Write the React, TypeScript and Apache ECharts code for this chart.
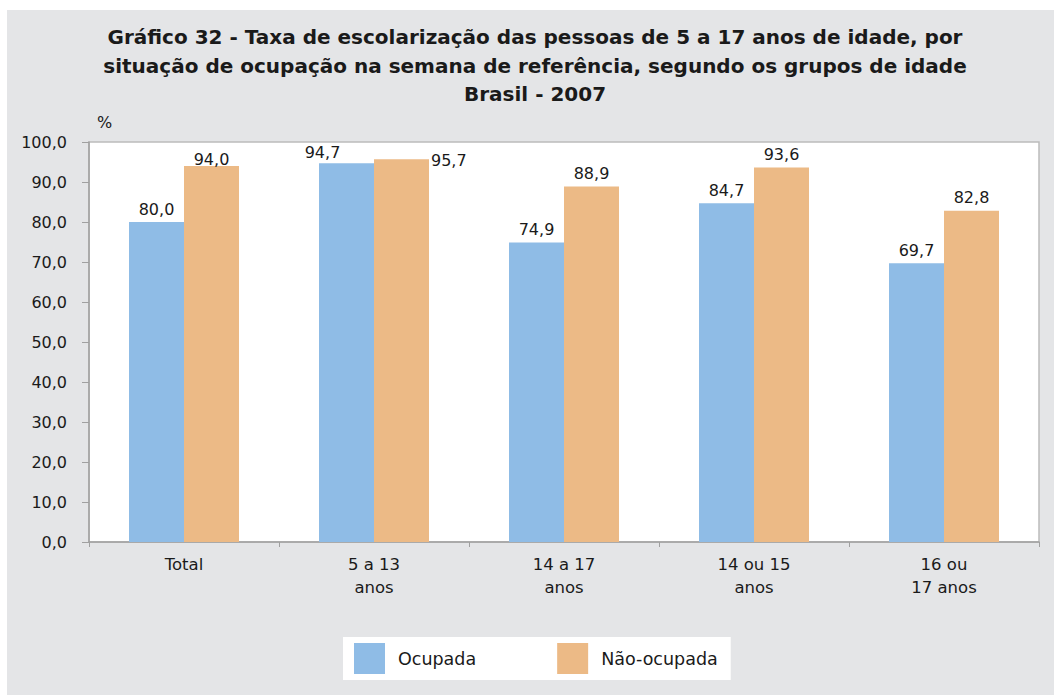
import React, { useEffect, useRef } from "react";
import * as echarts from "echarts";

const categories = ["Total", "5 a 13\nanos", "14 a 17\nanos", "14 ou 15\nanos", "16 ou\n17 anos"];
const ocupada = [80.0, 94.7, 74.9, 84.7, 69.7];
const naoOcupada = [94.0, 95.7, 88.9, 93.6, 82.8];
const seriesNames = ["Ocupada", "Não-ocupada"];
const titleLines = [
  "Gráfico 32 - Taxa de escolarização das pessoas de 5 a 17 anos de idade, por",
  "situação de ocupação na semana de referência, segundo os grupos de idade",
  "Brasil - 2007",
];

const FONT = "DejaVu Sans";
const TXT = "#1a1a1a";
const fmt = (v: number) => v.toFixed(1).replace(".", ",");

export default function App() {
  const ref = useRef<HTMLDivElement>(null);
  useEffect(() => {
    if (!ref.current) return;
    const chart = echarts.init(ref.current, undefined, { renderer: "svg" });
    const labelBase = {
      show: true,
      position: "top" as const,
      distance: 5,
      fontSize: 16,
      color: TXT,
      fontFamily: FONT,
      formatter: (p: any) => fmt(p.value),
    };
    const ocData = ocupada.map((v, i) =>
      i === 1 ? { value: v, label: { offset: [-24, 2] } } : v
    );
    const noData = naoOcupada.map((v, i) => {
      if (i === 0) return { value: v, label: { offset: [0, 6] } };
      if (i === 1)
        return {
          value: v,
          label: { position: ["100%", 0], align: "left", verticalAlign: "middle", offset: [2, 1] },
        };
      return v;
    });
    chart.setOption({
      animation: false,
      backgroundColor: "#ffffff",
      textStyle: { fontFamily: FONT },
      graphic: [
        {
          type: "rect",
          z: -10,
          silent: true,
          shape: { x: 7, y: 10, width: 1047, height: 685 },
          style: { fill: "#e4e5e7" },
        },
        {
          type: "text",
          left: 97,
          top: 114,
          style: { text: "%", fontSize: 16, fill: TXT, fontFamily: FONT },
        },
      ],
      title: {
        text: titleLines.join("\n"),
        left: 530,
        top: 18,
        textAlign: "center",
        textStyle: {
          fontSize: 20,
          fontWeight: "bold",
          color: TXT,
          fontFamily: FONT,
          lineHeight: 28.5,
        },
      },
      legend: {
        left: 343,
        top: 637,
        backgroundColor: "#ffffff",
        padding: [6, 13, 6, 11],
        itemWidth: 31,
        itemHeight: 31,
        itemGap: 81,
        icon: "rect",
        textStyle: { fontSize: 17.5, color: TXT, fontFamily: FONT, padding: [0, 0, 0, 8] },
        data: seriesNames,
      },
      grid: {
        left: 89,
        right: 15,
        top: 142,
        bottom: 153,
        show: true,
        backgroundColor: "#ffffff",
        borderColor: "#bcbcbc",
        borderWidth: 1.5,
      },
      xAxis: {
        type: "category",
        data: categories,
        axisLine: { show: true, lineStyle: { color: "#a0a0a0", width: 1.5 } },
        axisTick: { show: true, interval: 0, length: 5, lineStyle: { color: "#a0a0a0" } },
        axisLabel: {
          interval: 0,
          fontSize: 16.5,
          color: TXT,
          fontFamily: FONT,
          lineHeight: 23,
          margin: 11,
        },
      },
      yAxis: {
        type: "value",
        min: 0,
        max: 100,
        interval: 10,
        axisLine: { show: true, lineStyle: { color: "#a0a0a0", width: 1.5 } },
        axisTick: { show: true, length: 7, lineStyle: { color: "#a0a0a0" } },
        splitLine: { show: false },
        axisLabel: {
          fontSize: 16,
          color: TXT,
          fontFamily: FONT,
          margin: 22,
          formatter: (v: number) => fmt(v),
        },
      },
      series: [
        {
          name: seriesNames[0],
          type: "bar",
          data: ocData,
          barWidth: 55,
          barGap: "0%",
          itemStyle: { color: "#8fbce6" },
          label: labelBase,
        },
        {
          name: seriesNames[1],
          type: "bar",
          data: noData,
          barWidth: 55,
          barGap: "0%",
          itemStyle: { color: "#ecba86" },
          label: labelBase,
        },
      ],
    });
    return () => chart.dispose();
  }, []);
  return (
    <div
      ref={ref}
      style={{ position: "absolute", left: 0, top: 0, width: 1054, height: 695 }}
    />
  );
}
